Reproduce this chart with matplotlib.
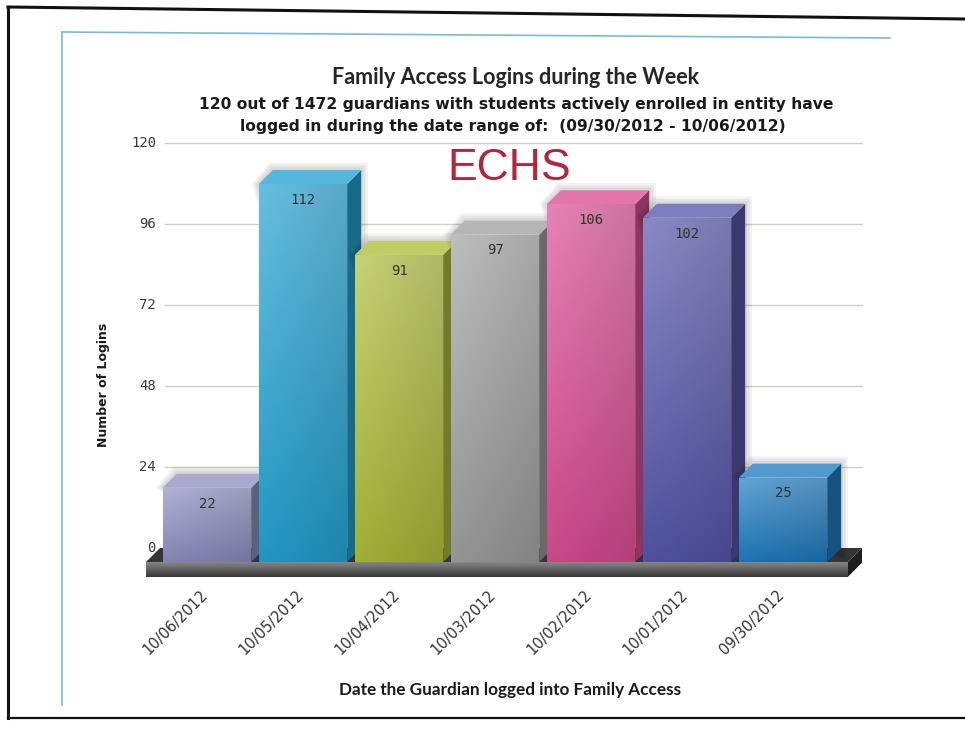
"""
Family Access logins during the week (ECHS) - pseudo-3D bar chart on a scanned page.
Writes out.png (965x733).
"""
import numpy as np
import matplotlib
matplotlib.use("Agg")
import matplotlib.pyplot as plt
from matplotlib.patches import Polygon
from matplotlib.colors import to_rgb
from matplotlib.lines import Line2D

# ---- data -------------------------------------------------------------
dates = ["10/06/2012", "10/05/2012", "10/04/2012", "10/03/2012",
         "10/02/2012", "10/01/2012", "09/30/2012"]
logins = [22, 112, 91, 97, 106, 102, 25]
bar_colors = ["#9090c4", "#24a4d4", "#b0be3a", "#a2a2a2",
              "#dc4e95", "#5758ad", "#1f7ec4"]
y_ticks = [0, 24, 48, 72, 96, 120]

title = "Family Access Logins during the Week"
subtitle = ["120 out of 1472 guardians with students actively enrolled in entity have",
            "logged in during the date range of:  (09/30/2012 - 10/06/2012)"]
school = "ECHS"
x_title = "Date the Guardian logged into Family Access"
y_title = "Number of Logins"

# ---- layout (pixels of the 965x733 canvas) ----------------------------
W, H = 965, 733
X0_PX, STEP_PX = 207, 96        # centre of first bar front, spacing
Y0_PX, PX_PER = 548, 3.375      # pixel row of value 0 on back wall, px per login
DEPTH_X = 14 / STEP_PX          # 3D depth offset in x data units
DEPTH_Y = 14 / PX_PER           # 3D depth offset in y data units
BAR_W = 0.92

def xd(px):
    return (px - X0_PX) / STEP_PX

def yd(py):
    return (Y0_PX - py) / PX_PER

def mix(c, other, t):
    c, o = np.array(to_rgb(c)), np.array(to_rgb(other))
    return (1 - t) * c + t * o

def shaded(ax, pts, c_top, c_bot, z, side_dark=0.0):
    poly = Polygon(pts, closed=True, facecolor="none", edgecolor="none", zorder=z)
    ax.add_patch(poly)
    xs, ys = zip(*pts)
    t = np.linspace(0, 1, 80)[:, None, None]
    s = np.linspace(0, 1, 40)[None, :, None]
    img = (1 - t) * np.array(c_bot) + t * np.array(c_top)
    img = img * (1 - side_dark * s)
    im = ax.imshow(np.clip(img, 0, 1), extent=[min(xs), max(xs), min(ys), max(ys)],
                   origin="lower", aspect="auto", interpolation="bilinear", zorder=z)
    im.set_clip_path(poly)

fig = plt.figure(figsize=(W / 100, H / 100), dpi=100)
fig.patch.set_facecolor("white")

# axes spanning pixel box x 140..870, y 130..600
ax_l, ax_r, ax_t, ax_b = 120, 880, 130, 600
ax = fig.add_axes([ax_l / W, 1 - ax_b / H, (ax_r - ax_l) / W, (ax_b - ax_t) / H])
ax.axis("off")

# back-wall gridlines
for v in y_ticks[1:]:
    ax.plot([xd(165), xd(862)], [v, v], color="#cfcfc2", lw=1.0, zorder=0)
for v in y_ticks:
    ax.text(xd(156), v, str(v), ha="right", va="center", fontsize=10,
            color="#3a3a3a", family="DejaVu Sans Mono")

# floor slab
fl0, fl1 = xd(146), xd(848)
front = -DEPTH_Y
ax.add_patch(Polygon([(fl0, front), (fl1, front), (fl1 + DEPTH_X, 0), (fl0 + DEPTH_X, 0)],
                     closed=True, facecolor="#353535", edgecolor="none", zorder=1))
shaded(ax, [(fl0, front - DEPTH_Y * 1.05), (fl1, front - DEPTH_Y * 1.05), (fl1, front), (fl0, front)],
       mix("#7a7a7a", "white", 0.1), mix("#3e3e3e", "black", 0.1), 1)
ax.add_patch(Polygon([(fl1, front - DEPTH_Y * 1.05), (fl1, front), (fl1 + DEPTH_X, 0),
                      (fl1 + DEPTH_X, -DEPTH_Y * 1.05)],
                     closed=True, facecolor="#1e1e1e", edgecolor="none", zorder=1))

# bars
for i, (v, c) in enumerate(zip(logins, bar_colors)):
    x0, x1 = i - BAR_W / 2, i + BAR_W / 2
    b, t = -DEPTH_Y, v - DEPTH_Y
    z = 2 + i
    # soft shadow around the top
    for k, a in enumerate([0.05, 0.05, 0.05]):
        g = 0.06 * (k + 1)
        ax.add_patch(Polygon([(x0 - g * 0.4, t), (x0 + DEPTH_X - g * 0.2, t + DEPTH_Y + g * 12),
                              (x1 + DEPTH_X + g * 0.4, t + DEPTH_Y + g * 12), (x1 + DEPTH_X + g * 0.4, b)],
                             closed=True, facecolor="black", alpha=a, edgecolor="none", zorder=z - 0.2))
    # side face
    ax.add_patch(Polygon([(x1, b), (x1, t), (x1 + DEPTH_X, t + DEPTH_Y), (x1 + DEPTH_X, b + DEPTH_Y)],
                         closed=True, facecolor=mix(c, "black", 0.35), edgecolor="none", zorder=z))
    # top face
    ax.add_patch(Polygon([(x0, t), (x1, t), (x1 + DEPTH_X, t + DEPTH_Y), (x0 + DEPTH_X, t + DEPTH_Y)],
                         closed=True, facecolor=mix(c, "white", 0.22), edgecolor="none", zorder=z))
    # front face with gradient
    shaded(ax, [(x0, b), (x1, b), (x1, t), (x0, t)],
           mix(c, "white", 0.3), mix(c, "black", 0.08), z + 0.5, side_dark=0.12)
    ax.text(i, t - 4.7, str(v), ha="center", va="center", fontsize=10,
            color="#333333", family="DejaVu Sans Mono", zorder=20)
    ax.text(i - 0.07, yd(587), dates[i], rotation=45, rotation_mode="anchor",
            ha="right", va="top", fontsize=10.5, color="#333333", family="DejaVu Sans")

ax.set_xlim(xd(ax_l), xd(ax_r))
ax.set_ylim(yd(ax_b), yd(ax_t))

# titles
fig.text(516 / W, 1 - 78 / H, title, ha="center", va="center", fontsize=15.5,
         fontweight="bold", color="#262626", family="Lato")
fig.text(516 / W, 1 - 105 / H, subtitle[0], ha="center", va="center", fontsize=11.2,
         fontweight="bold", color="#1a1a1a", family="DejaVu Sans")
fig.text(513 / W, 1 - 127 / H, subtitle[1], ha="center", va="center", fontsize=11.2,
         fontweight="bold", color="#1a1a1a", family="DejaVu Sans")
fig.text(509 / W, 1 - 168 / H, school, ha="center", va="center", fontsize=32,
         color="#b3263a", family="Liberation Sans")
fig.text(510 / W, 1 - 690 / H, x_title, ha="center", va="center", fontsize=12.3,
         fontweight="bold", color="#1a1a1a", family="Lato")
fig.text(103 / W, 1 - 385 / H, y_title, ha="center", va="center", rotation=90,
         fontsize=9, fontweight="bold", color="#1a1a1a", family="DejaVu Sans")

# scanned page edges and light-blue chart frame
def fline(xs, ys, **kw):
    fig.add_artist(Line2D([x / W for x in xs], [1 - y / H for y in ys], **kw))

fline([8, 965], [7, 19], color="#111111", lw=2.2)
fline([8, 8], [7, 718], color="#111111", lw=2.2)
fline([8, 965], [718, 718], color="#111111", lw=1.6)
fline([62, 890], [32, 38], color="#7ab8dc", lw=1.2)
fline([62, 62], [32, 705], color="#7ab8dc", lw=1.2)

fig.savefig("out.png", dpi=100)
